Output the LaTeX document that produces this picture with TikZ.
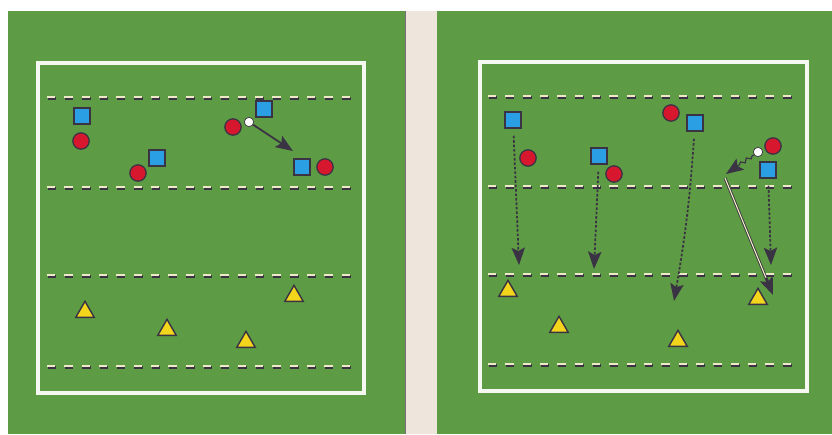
\documentclass[tikz,border=0pt]{standalone}
\usepackage{tikz}
\usetikzlibrary{arrows.meta, shapes.geometric, decorations.pathmorphing}
\definecolor{pitchgreen}{HTML}{5E9B45}
\definecolor{stripbeige}{HTML}{EEE6DC}
\definecolor{linewhite}{HTML}{F6F8F2}
\definecolor{dashyellow}{HTML}{EEE9C6}
\definecolor{playerblue}{HTML}{2A9FE3}
\definecolor{playerred}{HTML}{D7172D}
\definecolor{coneyellow}{HTML}{F3D51C}
\definecolor{arrowdark}{HTML}{3A3344}

\tikzset{
    attacker/.style={rectangle, fill=playerblue, draw=arrowdark, line width=1.2pt, minimum size=0.48cm, inner sep=0pt},
    defender/.style={circle, fill=playerred, draw=arrowdark, line width=1.1pt, minimum size=0.49cm, inner sep=0pt},
    ball/.style={circle, fill=white, draw=arrowdark, line width=0.6pt, minimum size=0.28cm, inner sep=0pt},
    cone/.style={regular polygon, regular polygon sides=3, fill=coneyellow, draw=arrowdark, line width=1.2pt, minimum size=0.64cm, inner sep=0pt},
    zoneline/.style={dashyellow, line width=2.4pt, dash pattern=on 0.25cm off 0.27cm},
    zoneshadow/.style={arrowdark, line width=2.4pt, dash pattern=on 0.25cm off 0.27cm},
    headtip/.style={-{Stealth[length=0.52cm, width=0.4cm, inset=0.1cm]}},
    run/.style={arrowdark, line width=1.5pt, dash pattern=on 2.2pt off 1.6pt, headtip},
    pass/.style={arrowdark, line width=1.5pt, headtip},
}

\begin{document}
\begin{tikzpicture}[x=0.03cm, y=-0.03cm]
    \useasboundingbox (0,0) rectangle (832,434);
    \fill[pitchgreen] (8,11) rectangle (832,434);
    \fill[stripbeige] (405,11) rectangle (437,434);
    \draw[arrowdark!70, line width=0.8pt] (405,11) -- (405,434);

    % left pitch
    \draw[linewhite, line width=2.6pt] (38,63) rectangle (364,393);
    \foreach \y in {97,187,275,366} {
        \draw[zoneshadow] (47.5,\y+1.3) -- (358.5,\y+1.3);
        \draw[zoneline] (47,\y) -- (358,\y);
    }

    \node[attacker] (aL1) at (82,116) {};
    \node[attacker] (aL2) at (157,158) {};
    \node[attacker] (aL3) at (264,109) {};
    \node[attacker] (aL4) at (302,167) {};
    \node[defender] (dL1) at (81,141) {};
    \node[defender] (dL2) at (138,173) {};
    \node[defender] (dL3) at (233,127) {};
    \node[defender] (dL4) at (325,167) {};
    \node[ball] (ballL) at (249,122) {};

    \node[cone] (cL1) at (85,312) {};
    \node[cone] (cL2) at (167,330) {};
    \node[cone] (cL3) at (246,342) {};
    \node[cone] (cL4) at (294,296) {};

    \coordinate (passL) at (293,151);
    \draw[pass] (ballL) -- (passL);

    % right pitch
    \draw[linewhite, line width=2.6pt] (480,62) rectangle (807,391);
    \foreach \y in {96,186,274,364} {
        \draw[zoneshadow] (488.5,\y+1.3) -- (800.5,\y+1.3);
        \draw[zoneline] (488,\y) -- (800,\y);
    }

    \node[attacker] (aR1) at (513,120) {};
    \node[attacker] (aR2) at (599,156) {};
    \node[attacker] (aR3) at (695,123) {};
    \node[attacker] (aR4) at (768,170) {};
    \node[defender] (dR1) at (528,158) {};
    \node[defender] (dR2) at (614,174) {};
    \node[defender] (dR3) at (671,113) {};
    \node[defender] (dR4) at (773,146) {};
    \node[ball] (ballR) at (758,152) {};

    \node[cone] (cR1) at (508,291) {};
    \node[cone] (cR2) at (559,327) {};
    \node[cone] (cR3) at (678,341) {};
    \node[cone] (cR4) at (758,299) {};

    \coordinate (runR1) at (519,265);
    \coordinate (runR2) at (594,269);
    \coordinate (runR3) at (674,301);
    \coordinate (runR4) at (771,265);
    \coordinate (dropR) at (726,174);
    \coordinate (kickR) at (725,178);
    \coordinate (passR) at (773,295);

    \draw[run, shorten <=6pt] (aR1) -- (runR1);
    \draw[run, shorten <=6pt] (aR2) -- (runR2);
    \draw[run, shorten <=6pt] (aR3) to[bend left=3] (runR3);
    \draw[run, shorten <=6pt] (aR4) -- (runR4);
    \draw[pass, line width=1pt, decorate, decoration={snake, amplitude=1.5pt, segment length=6pt, pre length=2pt, post length=12pt}] (ballR) -- (dropR);
    \draw[pass, line width=2.4pt] (kickR) -- (passR);
    \draw[linewhite!80!coneyellow, line width=0.9pt, shorten >=16pt] (kickR) -- (passR);
\end{tikzpicture}
\end{document}
